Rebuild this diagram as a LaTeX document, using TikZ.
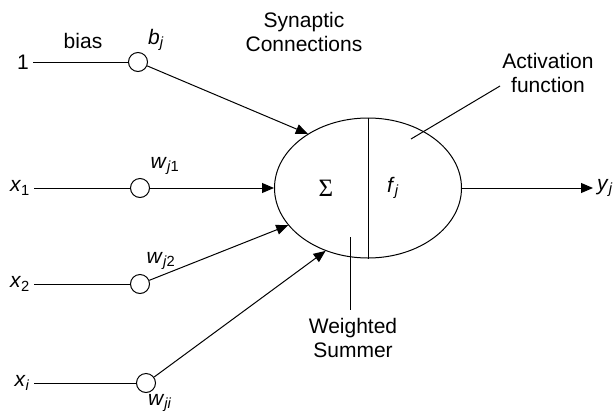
\documentclass[tikz,border=0pt]{standalone}
\usepackage{fontspec}
\setmainfont{Liberation Sans}
\newfontfamily\sigfont{Liberation Serif}
\usetikzlibrary{shapes.geometric,arrows.meta}
\newcommand{\sbs}[1]{\textsubscript{#1}}
\begin{document}
\begin{tikzpicture}[x=1pt,y=-1pt,
  every node/.style={font=\fontsize{21}{24}\selectfont},
  wt/.style={draw,circle,minimum size=19pt,inner sep=0pt,line width=1pt},
  lbl/.style={inner sep=0pt,align=center},
  con/.style={line width=1pt},
  arr/.style={line width=1pt,-{Triangle[length=12pt,width=10pt]}}]
\useasboundingbox (0,0) rectangle (613,413);
% summing node
\node[draw,ellipse,minimum width=187pt,minimum height=140pt,line width=1pt,inner sep=0pt] (sum) at (368,188) {};
\draw[con] (sum.north) -- (sum.south);
\node[lbl,font=\sigfont\fontsize{25}{25}\selectfont] (sig) at (326,188) {Σ};
\node[lbl] (fj) at (393,188) {\textit{f}\sbs{\textit{j}}};
% inputs
\node[lbl,anchor=east] (in0) at (29,62) {1};
\node[lbl,anchor=east] (in1) at (30,188) {\textit{x}\sbs{1}};
\node[lbl,anchor=east] (in2) at (30,284) {\textit{x}\sbs{2}};
\node[lbl,anchor=east] (ini) at (30,383) {\textit{x}\sbs{\textit{i}}};
\node[wt] (c0) at (138,62) {};
\node[wt] (c1) at (140,188) {};
\node[wt] (c2) at (140,284) {};
\node[wt] (ci) at (146,383) {};
\draw[con,shorten <=4pt] (in0.east) -- (c0);
\draw[con,shorten <=4pt] (in1.east|-c1) -- (c1);
\draw[con,shorten <=4pt] (in2.east|-c2) -- (c2);
\draw[con,shorten <=4pt] (ini.east|-ci) -- (ci);
\draw[arr] (c0) -- (sum.138.9);
\draw[arr] (c1) -- (sum.180);
\draw[arr] (c2) -- (sum.205.4);
\draw[arr] (ci) -- (sum.236.1);
% weight labels
\node[lbl] (bias) at (83,41) {bias};
\node[lbl] (bj) at (156,40) {\textit{b}\sbs{\textit{j}}};
\node[lbl] (w1) at (165,166) {\textit{w}\sbs{\textit{j}1}};
\node[lbl] (w2) at (161,261) {\textit{w}\sbs{\textit{j}2}};
\node[lbl] (wi) at (160,403) {\textit{w}\sbs{\textit{ji}}};
% output
\coordinate (oend) at (593,188);
\draw[arr] (sum.east) -- (oend);
\node[lbl,anchor=west] (yj) at (597,188) {\textit{y}\sbs{\textit{j}}};
% annotations
\node[lbl] (syn) at (304,32) {Synaptic\\Connections};
\node[lbl] (act) at (548,73) {Activation\\function};
\coordinate (a1) at (500,86);
\coordinate (a2) at (411,139);
\draw[con] (a1) -- (a2);
\node[lbl] (ws) at (353,338) {Weighted\\Summer};
\coordinate (w1a) at (350,237);
\coordinate (w1b) at (350,310);
\draw[con] (w1a) -- (w1b);
\end{tikzpicture}
\end{document}
